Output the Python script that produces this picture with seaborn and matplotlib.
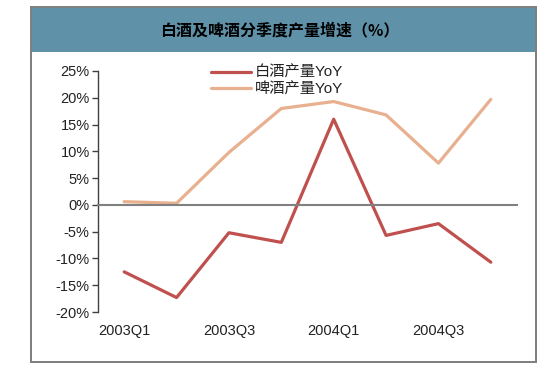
import matplotlib
matplotlib.use("Agg")
import matplotlib.pyplot as plt
from matplotlib.patches import Rectangle
import seaborn as sns
import pandas as pd
import numpy as np

# 数据
quarters = ["2003Q1", "2003Q2", "2003Q3", "2003Q4", "2004Q1", "2004Q2", "2004Q3", "2004Q4"]
baijiu_yoy = [-12.5, -17.3, -5.2, -7.0, 16.0, -5.7, -3.5, -10.7]
pijiu_yoy = [0.6, 0.3, 9.8, 18.0, 19.3, 16.8, 7.8, 19.7]
series_names = ["白酒产量YoY", "啤酒产量YoY"]
y_ticks = [-20, -15, -10, -5, 0, 5, 10, 15, 20, 25]
title_text = "白酒及啤酒分季度产量增速（%）"

df = pd.DataFrame({
    "idx": list(range(len(quarters))) * 2,
    "yoy": baijiu_yoy + pijiu_yoy,
    "series": [series_names[0]] * len(quarters) + [series_names[1]] * len(quarters),
})

sns.set_style("white")
plt.rcParams["font.family"] = ["Liberation Sans", "Noto Sans CJK SC", "DejaVu Sans"]

fig = plt.figure(figsize=(5.6, 3.71), dpi=100)
ax = fig.add_axes([98 / 560, 1 - 312 / 371, (517 - 98) / 560, (312 - 71) / 371])

# 外框和标题栏
fig.patches.append(Rectangle((31 / 560, 1 - 362 / 371), 505 / 560, 355 / 371,
                             transform=fig.transFigure, facecolor="white",
                             edgecolor="#7f7f7f", linewidth=1.3, zorder=-10))
fig.patches.append(Rectangle((31 / 560, 1 - 52 / 371), 505 / 560, 45 / 371,
                             transform=fig.transFigure, facecolor="#5F92A8",
                             edgecolor="none", zorder=-9))
fig.patches.append(Rectangle((31 / 560, 1 - 362 / 371), 505 / 560, 355 / 371,
                             transform=fig.transFigure, facecolor="none",
                             edgecolor="#7f7f7f", linewidth=1.3, zorder=-8))
fig.text(280 / 560, 1 - 30 / 371, title_text, ha="center", va="center",
         fontsize=11.5, fontweight="bold", color="black",
         family=["Noto Sans CJK SC", "DejaVu Sans"])

sns.lineplot(data=df, x="idx", y="yoy", hue="series",
             palette=["#C0504D", "#E8B08E"], linewidth=2.3, ax=ax)

ax.set_xlim(-0.5, len(quarters) - 0.5)
ax.set_ylim(-20, 25)
ax.set_yticks(y_ticks)
ax.set_yticklabels([f"{v}%" for v in y_ticks], fontsize=10.5, color="#222222")
ax.set_xlabel("")
ax.set_ylabel("")

# 横轴放在0处，刻度位于分隔线
for s in ["top", "right"]:
    ax.spines[s].set_visible(False)
ax.spines["bottom"].set_position(("data", 0))
ax.spines["bottom"].set_color("#808080")
ax.spines["bottom"].set_linewidth(1.5)
ax.spines["left"].set_color("#404040")
ax.spines["left"].set_linewidth(1.0)
ax.set_xticks(np.arange(-0.5, len(quarters), 1.0))
ax.set_xticklabels([])
ax.tick_params(axis="x", direction="in", length=3, color="#606060", width=1)
ax.tick_params(axis="y", direction="out", length=4, color="#404040", width=1, pad=2, left=True)

# 底部标签
sec = ax.secondary_xaxis("bottom")
sec.set_xticks(range(0, len(quarters), 2))
sec.set_xticklabels(quarters[::2], fontsize=10.5, color="#222222")
sec.tick_params(length=0, pad=9)
sec.spines["bottom"].set_visible(False)

leg = ax.legend(loc="upper left", bbox_to_anchor=(211 / 560, 1 - 66 / 371),
                bbox_transform=fig.transFigure, frameon=False, fontsize=11,
                handlelength=2.6, handletextpad=0.25, labelspacing=0.15,
                borderpad=0, borderaxespad=0)
for t in leg.get_texts():
    t.set_color("#222222")

fig.savefig("out.png", dpi=100)
